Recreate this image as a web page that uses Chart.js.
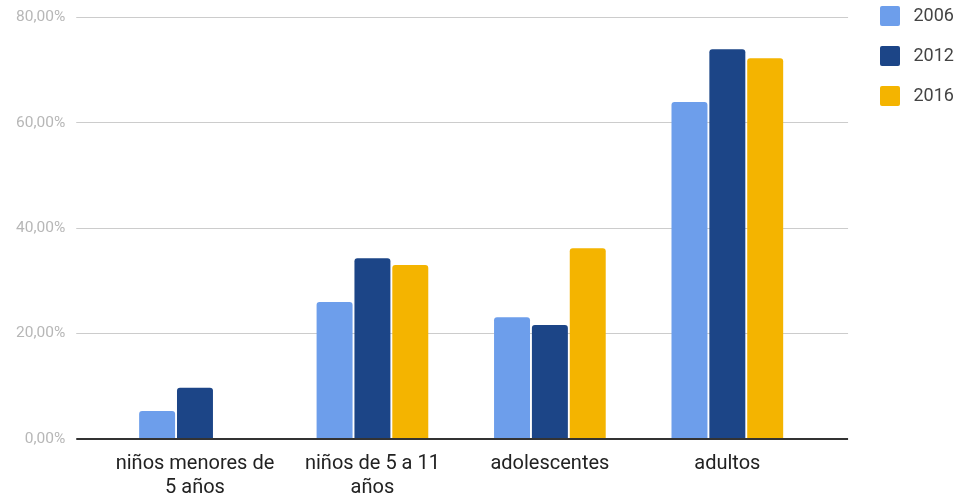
<!DOCTYPE html>
<html>
<head>
<meta charset="utf-8">
<script src="https://cdn.jsdelivr.net/npm/chart.js@4"></script>
<style>
  html, body { margin: 0; padding: 0; background: #fff; }
  #wrap { width: 956px; height: 496px; }
</style>
</head>
<body>
<div id="wrap"><canvas id="myChart"></canvas></div>
<script>
const categories = [["niños menores de", "5 años"], ["niños de 5 a 11", "años"], "adolescentes", "adultos"];
const years = ["2006", "2012", "2016"];
const values2006 = [5.3, 26.0, 23.1, 63.9];
const values2012 = [9.7, 34.3, 21.6, 73.9];
const values2016 = [null, 33.0, 36.2, 72.2];
const yTicks = [0, 20, 40, 60, 80];

const colors = ["#6d9eeb", "#1c4587", "#f4b400"];
const series = [values2006, values2012, values2016];

const ctx = document.getElementById("myChart");

Chart.defaults.font.family = "Roboto";

function fmt(v) {
  return v.toFixed(2).replace(".", ",") + "%";
}

function gridColor(c) {
  return c.tick && c.tick.value === 0 ? "#333333" : "#cccccc";
}
function gridWidth(c) {
  return c.tick && c.tick.value === 0 ? 2 : 1;
}

// move the legend up to the top right corner like the original
const legendShift = {
  id: "legendShift",
  afterLayout(chart) {
    const lg = chart.legend;
    const dy = lg.top + 20 - 6;
    const dx = 880 - (lg.left + 20);
    lg.top -= dy;
    lg.bottom -= dy;
    lg.left += dx;
    lg.right += dx;
  },
};

var myChart = new Chart(ctx, {
  type: "bar",
  data: {
    labels: categories,
    datasets: years.map((y, i) => ({
      label: y,
      data: series[i],
      backgroundColor: colors[i],
      borderWidth: 0,
      borderRadius: { topLeft: 3, topRight: 3 },
      borderSkipped: "bottom",
      categoryPercentage: 0.64,
      barPercentage: 0.95,
    })),
  },
  options: {
    responsive: true,
    maintainAspectRatio: false,
    animation: false,
    layout: { padding: { left: 5, top: -6, right: 4, bottom: -17 } },
    plugins: {
      tooltip: { enabled: false },
      legend: {
        position: "right",
        align: "start",
        labels: {
          boxWidth: 20,
          boxHeight: 20,
          padding: 20,
          useBorderRadius: true,
          borderRadius: 2,
          color: "#444444",
          font: { size: 18 },
          generateLabels: (chart) => {
            const items = Chart.defaults.plugins.legend.labels.generateLabels(chart);
            items.forEach(it => { it.text = " " + it.text; });
            return items;
          },
        },
      },
    },
    scales: {
      x: {
        grid: { display: false, drawTicks: false, tickLength: 0 },
        border: { display: false },
        ticks: {
          color: "#222222",
          font: { size: 20 },
          maxRotation: 0,
          autoSkip: false,
          padding: 13,
        },
      },
      y: {
        min: 0,
        max: 80,
        afterBuildTicks: (s) => { s.ticks = yTicks.map(v => ({ value: v })); },
        ticks: {
          color: "#b7b7b7",
          font: { size: 15.5, lineHeight: 0.8 },
          padding: 11,
          callback: (v) => fmt(v),
        },
        grid: { color: gridColor, lineWidth: gridWidth, tickLength: 30 },
        border: { display: false },
      },
      y2: {
        position: "right",
        min: 0,
        max: 80,
        afterBuildTicks: (s) => { s.ticks = yTicks.map(v => ({ value: v })); },
        ticks: { display: false },
        grid: { color: gridColor, lineWidth: gridWidth, tickLength: 32, drawOnChartArea: false },
        border: { display: false },
      },
    },
  },
  plugins: [legendShift],
});
</script>
</body>
</html>
